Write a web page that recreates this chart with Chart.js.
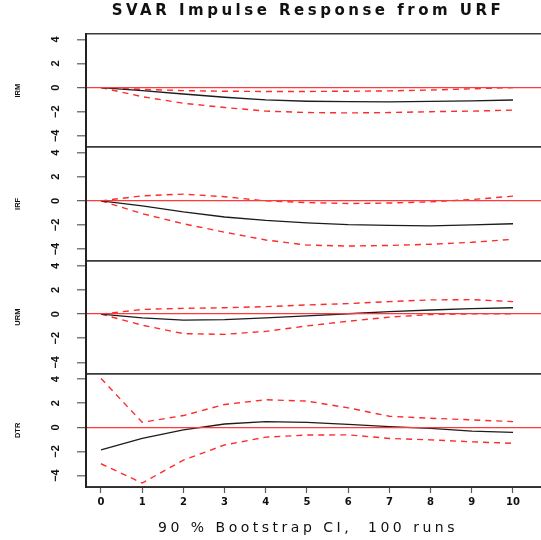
<!DOCTYPE html>
<html>
<head>
<meta charset="utf-8">
<title>SVAR Impulse Response from URF</title>
<script src="https://cdn.jsdelivr.net/npm/chart.js@4.4.1/dist/chart.umd.min.js"></script>
<style>
    html, body { margin: 0; padding: 0; overflow: hidden; background: #fff; }
    canvas { display: block; }
</style>
</head>
<body>
<canvas id="irf" width="616" height="540"></canvas>
<script>
// horizon steps
const steps = [0, 1, 2, 3, 4, 5, 6, 7, 8, 9, 10];
const yTickValues = [-4, -2, 0, 2, 4];

// response of IRM
const irmResp = [0, -0.25, -0.53, -0.8, -1.02, -1.13, -1.17, -1.18, -1.15, -1.1, -1.03];
const irmUpper = [0, -0.15, -0.25, -0.3, -0.32, -0.32, -0.3, -0.27, -0.2, -0.1, 0.0];
const irmLower = [0, -0.75, -1.3, -1.65, -1.95, -2.07, -2.1, -2.07, -2.0, -1.95, -1.87];

// response of IRF
const irfResp = [0, -0.42, -0.92, -1.34, -1.62, -1.82, -1.98, -2.04, -2.07, -2.0, -1.9];
const irfUpper = [0, 0.42, 0.56, 0.34, 0.0, -0.14, -0.22, -0.18, -0.08, 0.11, 0.39];
const irfLower = [0, -1.06, -1.9, -2.6, -3.25, -3.67, -3.75, -3.7, -3.6, -3.44, -3.19];

// response of URM
const urmResp = [0, -0.31, -0.5, -0.45, -0.31, -0.14, 0.03, 0.2, 0.34, 0.45, 0.53];
const urmUpper = [0, 0.39, 0.48, 0.53, 0.62, 0.76, 0.87, 1.04, 1.18, 1.2, 1.04];
const urmLower = [0, -0.92, -1.62, -1.68, -1.43, -0.98, -0.59, -0.25, -0.03, 0.02, 0.03];

// response of DTR
const dtrResp = [-1.87, -0.92, -0.2, 0.28, 0.48, 0.42, 0.25, 0.06, -0.08, -0.31, -0.42];
const dtrUpper = [4.06, 0.42, 0.98, 1.9, 2.29, 2.18, 1.62, 0.92, 0.76, 0.62, 0.48];
const dtrLower = [-3.02, -4.62, -2.72, -1.46, -0.81, -0.64, -0.62, -0.92, -1.04, -1.2, -1.32];

const panels = [
    { id: 'yIRM', name: 'IRM', resp: irmResp, upper: irmUpper, lower: irmLower },
    { id: 'yIRF', name: 'IRF', resp: irfResp, upper: irfUpper, lower: irfLower },
    { id: 'yURM', name: 'URM', resp: urmResp, upper: urmUpper, lower: urmLower },
    { id: 'yDTR', name: 'DTR', resp: dtrResp, upper: dtrUpper, lower: dtrLower }
];

const Y_MIN = -4.95;
const Y_MAX = 4.45;

const COLORS = {
    resp: '#1c1c1c',
    ci: '#ff2a2a',
    zero: '#ff3a3a',
    frame: '#3a3a3a',
    tick: '#5a5a5a',
    text: '#111111'
};

function points( values )
{
    return steps.map( ( s, i ) => ({ x: s, y: values[ i ] }) );
}

function fmtTick( value )
{
    if ( !Number.isInteger( value ) ) {
        return '';
    }
    return String( value ).replace( '-', '\u2212' );
}

function isBound( value )
{
    return value === Y_MIN || value === Y_MAX;
}

function makeYScale( panel, weight )
{
    return {
        type: 'linear',
        position: 'left',
        stack: 'panels',
        stackWeight: 1,
        weight: weight,
        min: Y_MIN,
        max: Y_MAX,
        afterBuildTicks: function ( scale )
        {
            scale.ticks = [ Y_MIN ].concat( yTickValues, [ Y_MAX ] ).map( v => ({ value: v }) );
        },
        afterFit: function ( scale )
        {
            scale.width = 86;
        },
        // labels are drawn turned by the yLabels plugin below
        ticks: { display: false },
        grid: {
            z: 1,
            drawOnChartArea: true,
            drawTicks: true,
            tickLength: 9,
            color: function ( context )
            {
                if ( context.tick.value === 0 ) return COLORS.zero;
                if ( isBound( context.tick.value ) ) return COLORS.frame;
                return 'rgba(0,0,0,0)';
            },
            lineWidth: function ( context )
            {
                return context.tick.value === 0 ? 1.3 : 1.6;
            },
            tickColor: function ( context )
            {
                return isBound( context.tick.value ) ? 'rgba(0,0,0,0)' : COLORS.tick;
            },
            tickWidth: 1.2
        },
        border: { display: true, color: '#222', width: 2, z: 1 },
        title: {
            display: true,
            text: panel.name,
            color: COLORS.text,
            font: { family: 'Liberation Sans', size: 7.5, weight: 'bold' },
            padding: { top: 13.5, bottom: 0 }
        }
    };
}

let datasets = [];
let scales = {
    x: {
        type: 'linear',
        position: 'bottom',
        min: -0.364,
        max: 12.5,
        afterBuildTicks: function ( scale )
        {
            scale.ticks = steps.map( v => ({ value: v }) );
        },
        afterFit: function ( scale )
        {
            scale.height = 30;
        },
        ticks: {
            z: 1,
            autoSkip: false,
            minRotation: 0,
            maxRotation: 0,
            padding: 3,
            color: COLORS.text,
            font: { family: 'DejaVu Sans', size: 10, weight: 'bold' }
        },
        grid: {
            display: true,
            drawOnChartArea: false,
            drawTicks: true,
            tickLength: 6,
            tickColor: COLORS.tick,
            tickWidth: 1.2
        },
        border: { display: true, color: '#222', width: 2 }
    }
};

panels.forEach( ( p, i ) =>
{
    scales[ p.id ] = makeYScale( p, panels.length - i );
    datasets.push( {
        label: p.name,
        data: points( p.resp ),
        yAxisID: p.id,
        borderColor: COLORS.resp,
        borderWidth: 1.3
    } );
    datasets.push( {
        label: p.name + ' upper',
        data: points( p.upper ),
        yAxisID: p.id,
        borderColor: COLORS.ci,
        borderWidth: 1.4,
        borderDash: [ 6, 5 ]
    } );
    datasets.push( {
        label: p.name + ' lower',
        data: points( p.lower ),
        yAxisID: p.id,
        borderColor: COLORS.ci,
        borderWidth: 1.4,
        borderDash: [ 6, 5 ]
    } );
} );

// wide text for the title and x label, plain text for the axis labels
const spacingPlugin = {
    id: 'spacing',
    beforeDraw: function ( chart )
    {
        chart.ctx.letterSpacing = '3.5px';
    },
    afterDatasetsDraw: function ( chart )
    {
        chart.ctx.letterSpacing = '0px';
    }
};

// y tick labels parallel to the axis, as R draws them
const yLabelsPlugin = {
    id: 'yLabels',
    afterDraw: function ( chart )
    {
        const ctx = chart.ctx;
        ctx.save();
        ctx.letterSpacing = '0px';
        ctx.font = 'bold 11px "Liberation Sans"';
        ctx.fillStyle = COLORS.text;
        ctx.textAlign = 'center';
        ctx.textBaseline = 'middle';
        panels.forEach( p =>
        {
            const scale = chart.scales[ p.id ];
            yTickValues.forEach( v =>
            {
                ctx.save();
                ctx.translate( scale.right - 30, scale.getPixelForValue( v ) );
                ctx.rotate( -Math.PI / 2 );
                ctx.fillText( fmtTick( v ), 0, 0 );
                ctx.restore();
            } );
        } );
        ctx.restore();
    }
};

new Chart( document.getElementById( 'irf' ).getContext( '2d' ), {
    type: 'line',
    data: { datasets: datasets },
    plugins: [ spacingPlugin, yLabelsPlugin ],
    options: {
        responsive: false,
        animation: false,
        events: [],
        layout: { padding: 0 },
        elements: {
            point: { radius: 0 },
            line: { tension: 0, fill: false }
        },
        plugins: {
            legend: { display: false },
            tooltip: { enabled: false },
            title: {
                display: true,
                text: 'SVAR Impulse Response from URF',
                color: COLORS.text,
                font: { family: 'DejaVu Sans', size: 15, weight: 'bold', lineHeight: 1.2 },
                padding: { top: 2.5, bottom: 13.5 }
            },
            subtitle: {
                display: true,
                position: 'bottom',
                text: '90 % Bootstrap CI,  100 runs',
                color: COLORS.text,
                font: { family: 'DejaVu Sans', size: 14, weight: 'normal', lineHeight: 1.2 },
                padding: { top: 2.6, bottom: 3.6 }
            }
        },
        scales: scales
    }
} );
</script>
</body>
</html>
